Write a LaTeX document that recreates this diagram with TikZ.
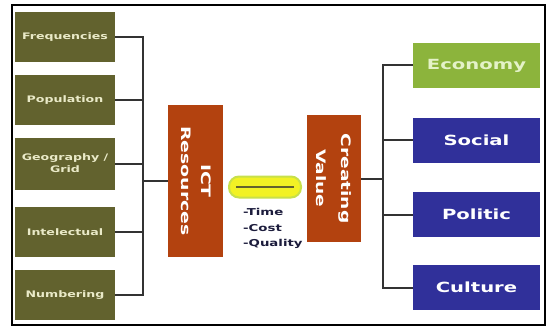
\documentclass[tikz,border=0pt]{standalone}
\usepackage{fontspec}
\setmainfont{DejaVu Sans}
\usepackage{graphicx}
\definecolor{olivebox}{HTML}{62622E}
\definecolor{paletext}{HTML}{EAEAC8}
\definecolor{rust}{HTML}{B3420F}
\definecolor{bluebox}{HTML}{30309A}
\definecolor{greenbox}{HTML}{8CB43C}
\definecolor{greentext}{HTML}{E4F2C8}
\definecolor{linecol}{HTML}{333333}
\definecolor{arrowyellow}{HTML}{F2F224}
\definecolor{arrowglow}{HTML}{C8E04A}
\definecolor{navytext}{HTML}{1C1C3C}
\newcommand\hstretch[1]{\scalebox{1.4}[1]{#1}}
\newcommand\twolines[2]{\begin{tabular}{@{}c@{}}#1\\#2\end{tabular}}
\tikzset{
  leftbox/.style={rectangle, fill=olivebox, minimum width=100pt, minimum height=50pt,
    inner sep=0pt, text=paletext, font=\bfseries\fontsize{9}{11}\selectfont},
  rightbox/.style={rectangle, fill=bluebox, minimum width=127pt, minimum height=45pt,
    inner sep=0pt, text=white, font=\bfseries\fontsize{14}{16}\selectfont},
  rustbox/.style={rectangle, fill=rust, inner sep=0pt, text=white},
  conn/.style={draw=linecol, line width=2pt},
  listtext/.style={anchor=west, inner sep=0pt, text=navytext, font=\bfseries\fontsize{9.5}{11}\selectfont}
}
\begin{document}
\begin{tikzpicture}[x=1pt,y=-1pt]
\useasboundingbox (0,0) rectangle (547,329);
\fill[white] (0,0) rectangle (547,329);
\draw[black, line width=1.5pt] (12,5) rectangle (545,325);

% left boxes
\node[leftbox] (f1) at (65,37) {\hstretch{Frequencies}};
\node[leftbox] (f2) at (65,100) {\hstretch{Population}};
\node[leftbox, minimum height=52pt] (f3) at (65,164) {\hstretch{\renewcommand\arraystretch{1.15}\twolines{Geography /}{Grid}}};
\node[leftbox] (f4) at (65,232) {\hstretch{Intelectual}};
\node[leftbox] (f5) at (65,295) {\hstretch{Numbering}};

% ICT resources
\node[rustbox, minimum width=55pt, minimum height=152pt] (ict) at (195.5,181)
  {\rotatebox{-90}{\scalebox{1.45}[1]{\bfseries\fontsize{13}{20}\selectfont\twolines{ICT}{Resources}}}};

% Creating value
\node[rustbox, minimum width=54pt, minimum height=127pt] (cv) at (334,178.5)
  {\rotatebox{-90}{\scalebox{1.43}[1]{\bfseries\fontsize{13}{25}\selectfont\twolines{Creating}{Value}}}};

% right boxes
\node[rightbox, fill=greenbox, text=greentext] (r1) at (476.5,65.5) {\hstretch{Economy}};
\node[rightbox] (r2) at (476.5,140.5) {\hstretch{Social}};
\node[rightbox] (r3) at (476.5,214.5) {\hstretch{Politic}};
\node[rightbox] (r4) at (476.5,287.5) {\hstretch{Culture}};

% left bus
\coordinate (lb) at (143,181);
\draw[conn] (f1.east) -| (lb);
\draw[conn] (f5.east) -| (lb);
\draw[conn] (f2.east) -- (f2.east -| lb);
\draw[conn] (f3.east) -- (f3.east -| lb);
\draw[conn] (f4.east) -- (f4.east -| lb);
\draw[conn] (lb) -- (ict.west);

% right bus
\coordinate (rb) at (383,178.5);
\draw[conn] (cv.east) -- (rb);
\draw[conn] (r1.west) -| (rb);
\draw[conn] (r4.west) -| (rb);
\draw[conn] (r2.west) -- (r2.west -| rb);
\draw[conn] (r3.west) -- (r3.west -| rb);

% yellow double link
\node[rectangle, rounded corners=10pt, fill=arrowyellow, draw=arrowglow, line width=2pt,
  minimum width=72pt, minimum height=21pt, inner sep=0pt] (link) at (265,187) {};
\draw[olivebox, line width=1.6pt] ([xshift=8pt]link.west) -- ([xshift=-8pt]link.east);

% list
\node[listtext] (t1) at (243,212) {\hstretch{-Time}};
\node[listtext] (t2) at (243,228) {\hstretch{-Cost}};
\node[listtext] (t3) at (243,244) {\hstretch{-Quality}};
\end{tikzpicture}
\end{document}
